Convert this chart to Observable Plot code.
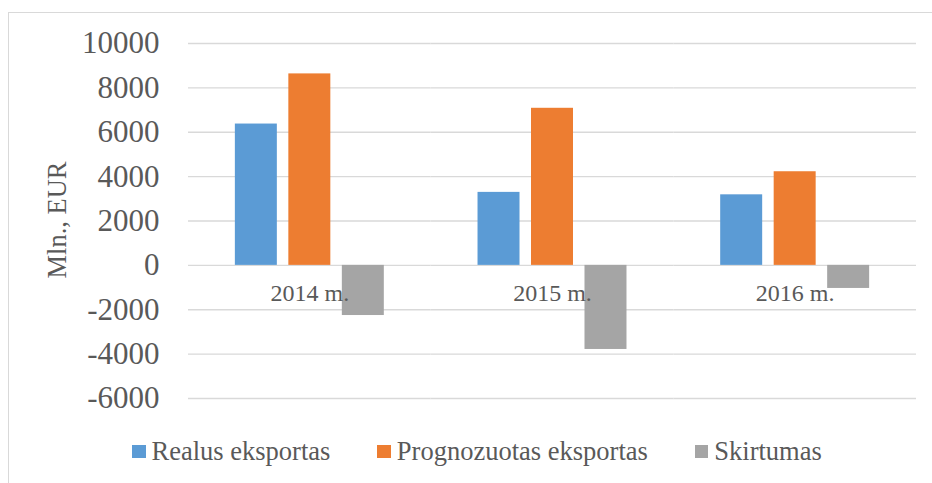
<!DOCTYPE html>
<html>
<head>
<meta charset="utf-8">
<script src="https://cdn.jsdelivr.net/npm/d3@7"></script>
<script src="https://cdn.jsdelivr.net/npm/@observablehq/plot@0.6"></script>
<style>
  html, body { margin: 0; padding: 0; background: #fff; }
  #wrap { position: relative; width: 932px; height: 483px; overflow: hidden; font-family: "Liberation Serif", "Times New Roman", serif; color: #595959; }
  #border { position: absolute; left: 8px; top: 11.5px; right: -2px; bottom: -2px; border-top: 1.5px solid #D9D9D9; border-left: 1.5px solid #D9D9D9; pointer-events: none; }
  #chart { position: absolute; left: 0; top: 0; }
  #legend { position: absolute; left: 132px; top: 438px; display: flex; align-items: center; font-size: 26.5px; line-height: 26.5px; white-space: nowrap; }
  .item { display: flex; align-items: center; margin-right: 47px; }
  .sw { width: 13.5px; height: 13.5px; margin-right: 6px; }
  #chart svg text { font-family: "Liberation Serif", "Times New Roman", serif; }
</style>
</head>
<body>
<div id="wrap">
  <div id="chart"></div>
  <div id="border"></div>
  <div id="legend"></div>
</div>
<script>
const years = ["2014 m.", "2015 m.", "2016 m."];
const series = ["Realus eksportas", "Prognozuotas eksportas", "Skirtumas"];
const colors = ["#5B9BD5", "#ED7D31", "#A5A5A5"];
const realus = [6370, 3290, 3180];
const prognozuotas = [8630, 7080, 4220];
const skirtumas = [-2260, -3790, -1040];
const yTicks = [-6000, -4000, -2000, 0, 2000, 4000, 6000, 8000, 10000];
const yLabel = "Mln., EUR";

const rows = [];
years.forEach((yr, i) => {
  rows.push({year: yr, series: series[0], value: realus[i]});
  rows.push({year: yr, series: series[1], value: prognozuotas[i]});
  rows.push({year: yr, series: series[2], value: skirtumas[i]});
});

const font = "Liberation Serif, Times New Roman, serif";

const plot = Plot.plot({
  width: 932,
  height: 425,
  marginTop: 43,
  marginBottom: 27,
  marginLeft: 188,
  marginRight: 16,
  style: {fontFamily: font, color: "#595959", background: "transparent", overflow: "visible"},
  fx: {domain: years, padding: 0, axis: null, round: false},
  x: {domain: series, paddingInner: 0.215, paddingOuter: 0.876, axis: null, round: false},
  y: {domain: [-6000, 10000], axis: null},
  color: {domain: series, range: colors},
  marks: [
    Plot.gridY(yTicks, {stroke: "#D9D9D9", strokeOpacity: 1, strokeWidth: 1.4}),
    Plot.barY(rows, {fx: "year", x: "series", y: "value", fill: "series"}),
    Plot.text(years, {fx: d => d, y: () => 0, text: d => d, dy: 27.5, fontSize: 24, fill: "#595959", textAnchor: "middle", frameAnchor: "middle"}),
    Plot.axisY(yTicks, {tickSize: 0, tickPadding: 29, fontSize: 31, fontFamily: font, tickFormat: d => String(d), label: null, fill: "#595959"})
  ]
});
document.getElementById("chart").appendChild(plot);

d3.select(plot).selectAll('g[aria-label="y-axis tick label"]')
  .attr("font-size", 31)
  .style("font-size", "31px")
  .attr("font-family", font)
  .attr("font-variant", "normal");

d3.select(plot).append("text")
  .attr("transform", "translate(65.5,220) rotate(-90)")
  .attr("text-anchor", "middle")
  .attr("font-size", 26.5)
  .attr("font-family", font)
  .attr("fill", "#595959")
  .text(yLabel);

const legend = d3.select("#legend");
series.forEach((s, i) => {
  const it = legend.append("div").attr("class", "item");
  it.append("div").attr("class", "sw").style("background", colors[i]);
  it.append("span").text(s);
});
</script>
</body>
</html>
